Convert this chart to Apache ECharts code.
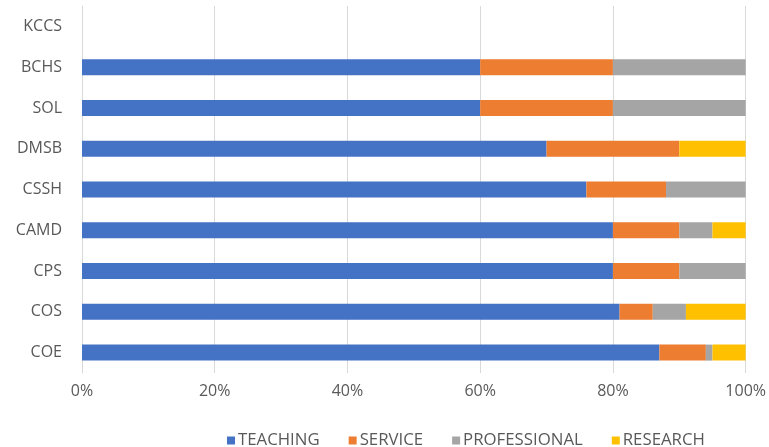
<!DOCTYPE html>
<html>
<head>
<meta charset="utf-8">
<script src="https://cdn.jsdelivr.net/npm/echarts@6/dist/echarts.min.js"></script>
<style>
  html, body { margin: 0; padding: 0; background: #fff; }
  #chart { width: 769px; height: 447px; }
</style>
</head>
<body>
<div id="chart"></div>
<script>
// categories bottom -> top
var colleges = ['COE', 'COS', 'CPS', 'CAMD', 'CSSH', 'DMSB', 'SOL', 'BCHS', 'KCCS'];
var teaching = [0.87, 0.81, 0.80, 0.80, 0.76, 0.70, 0.60, 0.60, null];
var service = [0.07, 0.05, 0.10, 0.10, 0.12, 0.20, 0.20, 0.20, null];
var professional = [0.01, 0.05, 0.10, 0.05, 0.12, 0, 0.20, 0.20, null];
var research = [0.05, 0.09, 0, 0.05, 0, 0.10, 0, 0, null];
var xTicks = [0, 0.2, 0.4, 0.6, 0.8, 1];

var chart = echarts.init(document.getElementById('chart'));

function bar(name, values, color) {
    return {
        name: name,
        type: 'bar',
        stack: 'total',
        barWidth: 16,
        data: values,
        itemStyle: { color: color }
    };
}

chart.setOption({
    animation: false,
    textStyle: { fontFamily: 'Open Sans' },
    grid: { left: 82, right: 21, top: 6, bottom: 74 },
    legend: {
        left: 222,
        top: 427,
        itemWidth: 8,
        itemHeight: 8,
        itemGap: 29,
        icon: 'rect',
        textStyle: { color: '#595959', fontSize: 16.8, fontFamily: 'Open Sans', padding: [0, 0, 0, -2] },
        data: ['TEACHING', 'SERVICE', 'PROFESSIONAL', 'RESEARCH']
    },
    xAxis: {
        type: 'value',
        min: xTicks[0],
        max: xTicks[xTicks.length - 1],
        interval: 0.2,
        axisLine: { show: false },
        axisTick: { show: false },
        splitLine: { lineStyle: { color: '#d9d9d9', width: 1 } },
        axisLabel: {
            color: '#595959',
            fontSize: 16,
            margin: 10,
            formatter: function (v) { return Math.round(v * 100) + '%'; }
        }
    },
    yAxis: {
        type: 'category',
        data: colleges,
        axisLine: { show: true, lineStyle: { color: '#d9d9d9', width: 1 } },
        axisTick: { show: false },
        axisLabel: { color: '#595959', fontSize: 16, margin: 20 }
    },
    series: [
        bar('TEACHING', teaching, '#4472C4'),
        bar('SERVICE', service, '#ED7D31'),
        bar('PROFESSIONAL', professional, '#A5A5A5'),
        bar('RESEARCH', research, '#FFC000')
    ]
});
</script>
</body>
</html>
